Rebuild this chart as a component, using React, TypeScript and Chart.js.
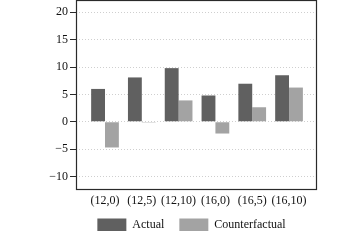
import React, { useEffect, useRef } from "react";
import { Chart, registerables } from "chart.js";

Chart.register(...registerables);

const categories = ["(12,0)", "(12,5)", "(12,10)", "(16,0)", "(16,5)", "(16,10)"];
const actual = [6.0, 8.1, 9.8, 4.8, 6.95, 8.5];
const counterfactual = [-4.7, -0.15, 3.9, -2.15, 2.65, 6.25];
const yTicks = [-10, -5, 0, 5, 10, 15, 20];

const FONT = "'Liberation Serif', 'Times New Roman', serif";

const framePlugin = {
  id: "frame",
  afterLayout(chart: any) {
    const l = chart.legend;
    if (l) {
      l.left -= 5;
      l.right -= 5;
      l.top -= 9;
      l.bottom -= 9;
    }
  },
  afterDraw(chart: any) {
    const { ctx, chartArea } = chart;
    ctx.save();
    ctx.strokeStyle = "#2a2a2a";
    ctx.lineWidth = 1.2;
    ctx.strokeRect(
      Math.round(chartArea.left) + 0.5,
      Math.round(chartArea.top) + 0.5,
      Math.round(chartArea.right - chartArea.left) - 1,
      Math.round(chartArea.bottom - chartArea.top) - 1
    );
    ctx.restore();
  },
};

export default function App() {
  const ref = useRef<HTMLCanvasElement | null>(null);
  useEffect(() => {
    document.body.style.margin = "0";
    const c = ref.current!;
    const chart = new Chart(c, {
      type: "bar",
      data: {
        datasets: [
          {
            label: "Actual",
            data: actual.map((v, i) => ({ x: i + 1, y: v })),
            backgroundColor: "#606060",
            borderWidth: 0,
          },
          {
            label: "Counterfactual",
            data: counterfactual.map((v, i) => ({ x: i + 1, y: v })),
            backgroundColor: "#a3a3a3",
            borderWidth: 0,
          },
        ],
      },
      plugins: [framePlugin],
      options: {
        animation: false,
        responsive: false,
        devicePixelRatio: 1,
        layout: { padding: { left: 46, right: 43, top: 0, bottom: 0 } },
        datasets: { bar: { categoryPercentage: 0.753, barPercentage: 1 } },
        plugins: {
          legend: {
            position: "bottom",
            fullSize: false,
            maxHeight: 27.6,
            labels: {
              boxWidth: 29,
              boxHeight: 13,
              padding: 15,
              color: "#111",
              font: { family: FONT, size: 12 },
            },
          },
          tooltip: { enabled: false },
        },
        scales: {
          x: {
            type: "linear",
            min: 0.212,
            max: 6.76,
            offset: false,
            grid: { display: false, drawTicks: false },
            border: { display: false },
            afterFit: (scale: any) => {
              scale.paddingLeft = 0;
              scale.paddingRight = 0;
            },
            ticks: {
              stepSize: 1,
              includeBounds: false,
              padding: 4,
              color: "#111",
              font: { family: FONT, size: 12 },
              maxRotation: 0,
              autoSkip: false,
              callback: (v: any) => {
                const i = Number(v) - 1;
                return Number.isInteger(i) && categories[i] ? categories[i] : "";
              },
            },
          },
          y: {
            min: -12.47,
            max: 22.25,
            afterBuildTicks: (scale: any) => {
              scale.ticks = yTicks.map((v) => ({ value: v }));
            },
            afterFit: (scale: any) => {
              scale.width = 30;
              scale.paddingTop = 0;
              scale.paddingBottom = 0;
            },
            grid: {
              color: "#cfcfcf",
              tickColor: "#2a2a2a",
              tickLength: 6,
              tickBorderDash: [],
            },
            border: { display: false, dash: [1, 2] },
            ticks: {
              padding: 2,
              color: "#111",
              font: { family: FONT, size: 12 },
              callback: (v: any) => String(v).replace("-", "\u2212"),
            },
          },
        },
      },
    } as any);
    return () => chart.destroy();
  }, []);
  return (
    <div style={{ position: "fixed", left: 0, top: 0, width: 360, height: 240, background: "#fff" }}>
      <canvas ref={ref} width={360} height={240} />
    </div>
  );
}
